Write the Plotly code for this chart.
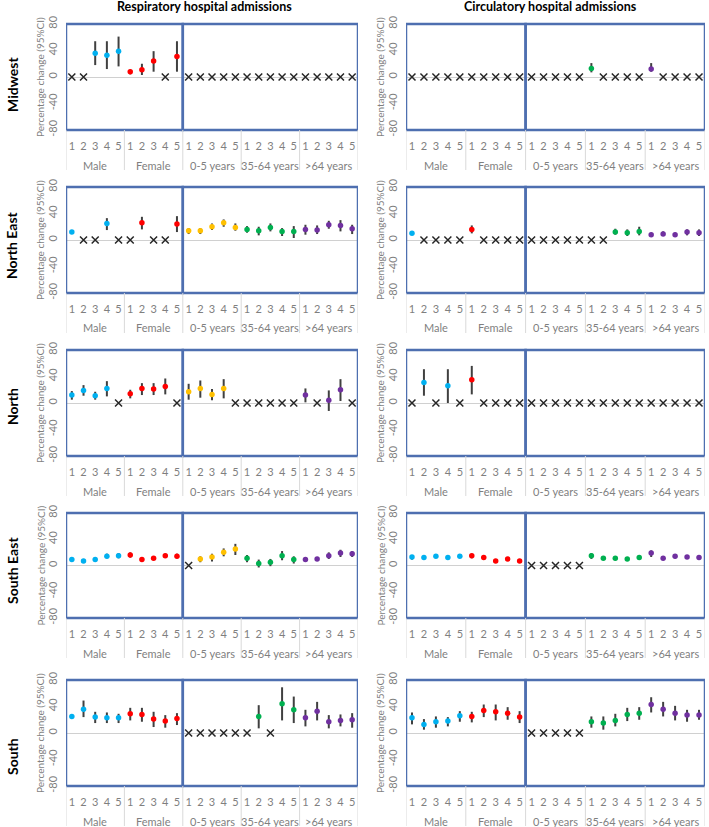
import plotly.graph_objects as go

N = None
groups = ["Male", "Female", "0-5 years", "35-64 years", ">64 years"]
group_colors = ["#00b0f0", "#ff0000", "#ffc000", "#00b050", "#7030a0"]
sub_labels = ["1", "2", "3", "4", "5"]
regions = ["Midwest", "North East", "North", "South East", "South"]
outcomes = ["Respiratory hospital admissions", "Circulatory hospital admissions"]
y_ticks = [-80, -40, 0, 40, 80]

# Percentage change estimates and 95% CI; None = not significant (drawn as x at 0)
mw_resp_est = [N, N, 36, 33, 39, 8, 11, 24, N, 31, N, N, N, N, N, N, N, N, N, N, N, N, N, N, N]
mw_resp_lo = [N, N, 18, 12, 16, 4, 3, 8, N, 8, N, N, N, N, N, N, N, N, N, N, N, N, N, N, N]
mw_resp_hi = [N, N, 54, 54, 61, 11, 20, 39, N, 54, N, N, N, N, N, N, N, N, N, N, N, N, N, N, N]

mw_circ_est = [N, N, N, N, N, N, N, N, N, N, N, N, N, N, N, 13, N, N, N, N, 12, N, N, N, N]
mw_circ_lo = [N, N, N, N, N, N, N, N, N, N, N, N, N, N, N, 7, N, N, N, N, 8, N, N, N, N]
mw_circ_hi = [N, N, N, N, N, N, N, N, N, N, N, N, N, N, N, 21, N, N, N, N, 21, N, N, N, N]

ne_resp_est = [12, N, N, 25, N, N, 26, N, N, 24, 14, 14, 20, 26, 19, 16, 14, 19, 13, 13, 16, 15, 23, 22, 17]
ne_resp_lo = [10, N, N, 15, N, N, 16, N, N, 12, 9, 9, 15, 20, 14, 11, 7, 13, 6, 3, 8, 9, 17, 13, 9]
ne_resp_hi = [14, N, N, 33, N, N, 35, N, N, 36, 18, 18, 25, 31, 25, 21, 20, 25, 18, 21, 23, 22, 29, 30, 23]

ne_circ_est = [10, N, N, N, N, 16, N, N, N, N, N, N, N, N, N, N, N, 12, 11, 13, 8, 9, 8, 12, 11]
ne_circ_lo = [8, N, N, N, N, 10, N, N, N, N, N, N, N, N, N, N, N, 8, 6, 7, 5, 7, 5, 7, 6]
ne_circ_hi = [13, N, N, N, N, 22, N, N, N, N, N, N, N, N, N, N, N, 17, 16, 20, 11, 13, 11, 16, 16]

no_resp_est = [12, 19, 11, 22, N, 14, 22, 21, 25, N, 17, 22, 13, 22, N, N, N, N, N, N, 12, N, 4, 20, N]
no_resp_lo = [5, 11, 5, 10, N, 7, 12, 12, 13, N, 5, 8, 4, 7, N, N, N, N, N, N, 1, N, -12, 3, N]
no_resp_hi = [18, 27, 17, 33, N, 20, 30, 30, 37, N, 29, 34, 21, 36, N, N, N, N, N, N, 22, N, 19, 36, N]

no_circ_est = [N, 31, N, 26, N, 35, N, N, N, N, N, N, N, N, N, N, N, N, N, N, N, N, N, N, N]
no_circ_lo = [N, 11, N, 0, N, 13, N, N, N, N, N, N, N, N, N, N, N, N, N, N, N, N, N, N, N]
no_circ_hi = [N, 51, N, 51, N, 56, N, N, N, N, N, N, N, N, N, N, N, N, N, N, N, N, N, N, N]

se_resp_est = [9, 7, 9, 14, 15, 16, 9, 11, 15, 14, N, 10, 13, 20, 25, 11, 3, 5, 15, 9, 9, 10, 15, 19, 18]
se_resp_lo = [6, 5, 6, 11, 11, 12, 7, 9, 12, 11, N, 5, 6, 14, 16, 5, -3, -1, 8, 3, 6, 7, 10, 13, 13]
se_resp_hi = [12, 10, 12, 18, 19, 20, 11, 14, 18, 18, N, 14, 18, 26, 33, 16, 9, 10, 22, 14, 12, 13, 20, 24, 22]

se_circ_est = [13, 12, 14, 12, 14, 15, 12, 7, 10, 7, N, N, N, N, N, 15, 11, 11, 10, 12, 19, 11, 14, 13, 12]
se_circ_lo = [9, 10, 12, 11, 12, 11, 10, 5, 8, 6, N, N, N, N, N, 10, 9, 8, 8, 10, 13, 9, 11, 11, 10]
se_circ_hi = [16, 13, 16, 14, 16, 18, 14, 9, 12, 9, N, N, N, N, N, 19, 13, 14, 12, 14, 23, 14, 16, 15, 14]

so_resp_est = [25, 36, 24, 23, 23, 29, 28, 21, 18, 22, N, N, N, N, N, N, 25, N, 44, 35, 23, 33, 17, 19, 20]
so_resp_lo = [23, 24, 15, 15, 15, 19, 17, 9, 8, 12, N, N, N, N, N, N, 7, N, 19, 15, 10, 19, 7, 10, 8]
so_resp_hi = [27, 49, 32, 31, 29, 38, 38, 32, 27, 30, N, N, N, N, N, N, 42, N, 69, 55, 35, 47, 27, 28, 30]

so_circ_est = [23, 13, 17, 18, 26, 25, 34, 32, 30, 24, N, N, N, N, N, 17, 15, 19, 28, 30, 43, 36, 30, 27, 27]
so_circ_lo = [13, 5, 8, 10, 17, 16, 24, 19, 20, 15, N, N, N, N, N, 8, 5, 10, 18, 20, 31, 25, 19, 17, 20]
so_circ_hi = [31, 21, 25, 24, 33, 32, 43, 43, 39, 33, N, N, N, N, N, 25, 25, 29, 38, 39, 54, 47, 41, 35, 35]

panels = [
    [(mw_resp_est, mw_resp_lo, mw_resp_hi), (mw_circ_est, mw_circ_lo, mw_circ_hi)],
    [(ne_resp_est, ne_resp_lo, ne_resp_hi), (ne_circ_est, ne_circ_lo, ne_circ_hi)],
    [(no_resp_est, no_resp_lo, no_resp_hi), (no_circ_est, no_circ_lo, no_circ_hi)],
    [(se_resp_est, se_resp_lo, se_resp_hi), (se_circ_est, se_circ_lo, se_circ_hi)],
    [(so_resp_est, so_resp_lo, so_resp_hi), (so_circ_est, so_circ_lo, so_circ_hi)],
]

W, H = 709, 827
FONT = "Lato"
GRAY = "#7f7f7f"
BOX = "#4e6fb0"

col_x = [(66, 358), (406, 705)]
row_y = [(24, 130), (187, 293), (350, 456), (513, 618), (680, 786)]
row_label_y = [85, 245, 407, 571, 757]
title_x = [204, 550]

fig = go.Figure()
layout = dict(
    width=W, height=H, margin=dict(l=0, r=0, t=0, b=0, autoexpand=False),
    paper_bgcolor="white", plot_bgcolor="white", showlegend=False,
    font=dict(family=FONT, color=GRAY),
)
annotations = []
shapes = []

cat_idx = list(range(25))
cat_text = sub_labels * 5

for r in range(5):
    for c in range(2):
        k = r * 2 + c + 1
        xa = "x" if k == 1 else f"x{k}"
        ya = "y" if k == 1 else f"y{k}"
        xkey = "xaxis" if k == 1 else f"xaxis{k}"
        ykey = "yaxis" if k == 1 else f"yaxis{k}"
        x0, x1 = col_x[c]
        t, b = row_y[r]
        layout[xkey] = dict(
            domain=[x0 / W, x1 / W], anchor=ya, range=[-0.5, 24.5], automargin=False,
            tickvals=cat_idx, ticktext=cat_text, showgrid=False, zeroline=False,
            showline=False, ticks="", tickfont=dict(size=11, color=GRAY, family=FONT),
            ticklabelstandoff=8, fixedrange=True,
        )
        layout[ykey] = dict(
            domain=[1 - b / H, 1 - t / H], anchor=xa, range=[-80, 80], automargin=False,
            tickvals=y_ticks, ticktext=[str(v) for v in y_ticks], tickangle=-90,
            showgrid=False, zeroline=True, zerolinecolor="#d0d0d0", zerolinewidth=1,
            showline=False, ticks="", tickfont=dict(size=11, color=GRAY, family=FONT),
            ticklabelstandoff=6, fixedrange=True,
        )
        est, lo, hi = panels[r][c]
        for g in range(5):
            xs, ys, ep, em = [], [], [], []
            for i in range(g * 5, g * 5 + 5):
                if est[i] is not None:
                    xs.append(i)
                    ys.append(est[i])
                    ep.append(hi[i] - est[i])
                    em.append(est[i] - lo[i])
            if xs:
                fig.add_trace(go.Scatter(
                    x=xs, y=ys, mode="markers", xaxis=xa, yaxis=ya,
                    marker=dict(color=group_colors[g], size=5.5),
                    error_y=dict(type="data", array=ep, arrayminus=em, color="#404040",
                                 thickness=2, width=0),
                    hoverinfo="skip",
                ))
        nx = [i for i in range(25) if est[i] is None]
        fig.add_trace(go.Scatter(
            x=nx, y=[0] * len(nx), mode="markers", xaxis=xa, yaxis=ya,
            marker=dict(symbol="x-thin", size=7, line=dict(color="#262626", width=1.5)),
            hoverinfo="skip",
        ))
        # group boxes
        shapes.append(dict(type="rect", xref=xa, yref=f"{ya} domain", x0=-0.5, x1=9.5, y0=0, y1=1,
                           line=dict(color=BOX, width=2.5), layer="above"))
        shapes.append(dict(type="rect", xref=xa, yref=f"{ya} domain", x0=9.5, x1=24.5, y0=0, y1=1,
                           line=dict(color=BOX, width=2.5), layer="above"))
        # category separators
        for sx in [-0.5, 4.5, 9.5, 14.5, 19.5, 24.5]:
            shapes.append(dict(type="line", xref=xa, yref=f"{ya} domain", x0=sx, x1=sx, y0=0,
                               y1=-40 / (b - t), line=dict(color="#d9d9d9", width=1)))
        for g in range(5):
            annotations.append(dict(text=groups[g], xref=xa, yref=f"{ya} domain", x=g * 5 + 2,
                                    y=-35 / (b - t), showarrow=False, xanchor="center",
                                    yanchor="middle", font=dict(size=11, color=GRAY, family=FONT)))
        # y axis title
        annotations.append(dict(text="Percentage change (95%CI)", xref="paper", yref="paper",
                                x=(x0 - 26) / W, y=1 - (t + b) / 2 / H, textangle=-90,
                                showarrow=False, xanchor="center", yanchor="middle",
                                font=dict(size=10, color=GRAY, family=FONT)))
    annotations.append(dict(text=f"<b>{regions[r]}</b>", xref="paper", yref="paper",
                            x=12 / W, y=1 - row_label_y[r] / H, textangle=-90, showarrow=False,
                            xanchor="center", yanchor="middle",
                            font=dict(size=14, color="#000000", family=FONT)))

for c in range(2):
    annotations.append(dict(text=f"<b>{outcomes[c]}</b>", xref="paper", yref="paper",
                            x=title_x[c] / W, y=1 - 6 / H, showarrow=False, xanchor="center",
                            yanchor="middle", font=dict(size=12.5, color="#000000", family=FONT)))

layout["annotations"] = annotations
layout["shapes"] = shapes
fig.update_layout(**layout)
fig.write_html("out.html", config={"displayModeBar": False},
               post_script="document.body.style.margin='0px';")
